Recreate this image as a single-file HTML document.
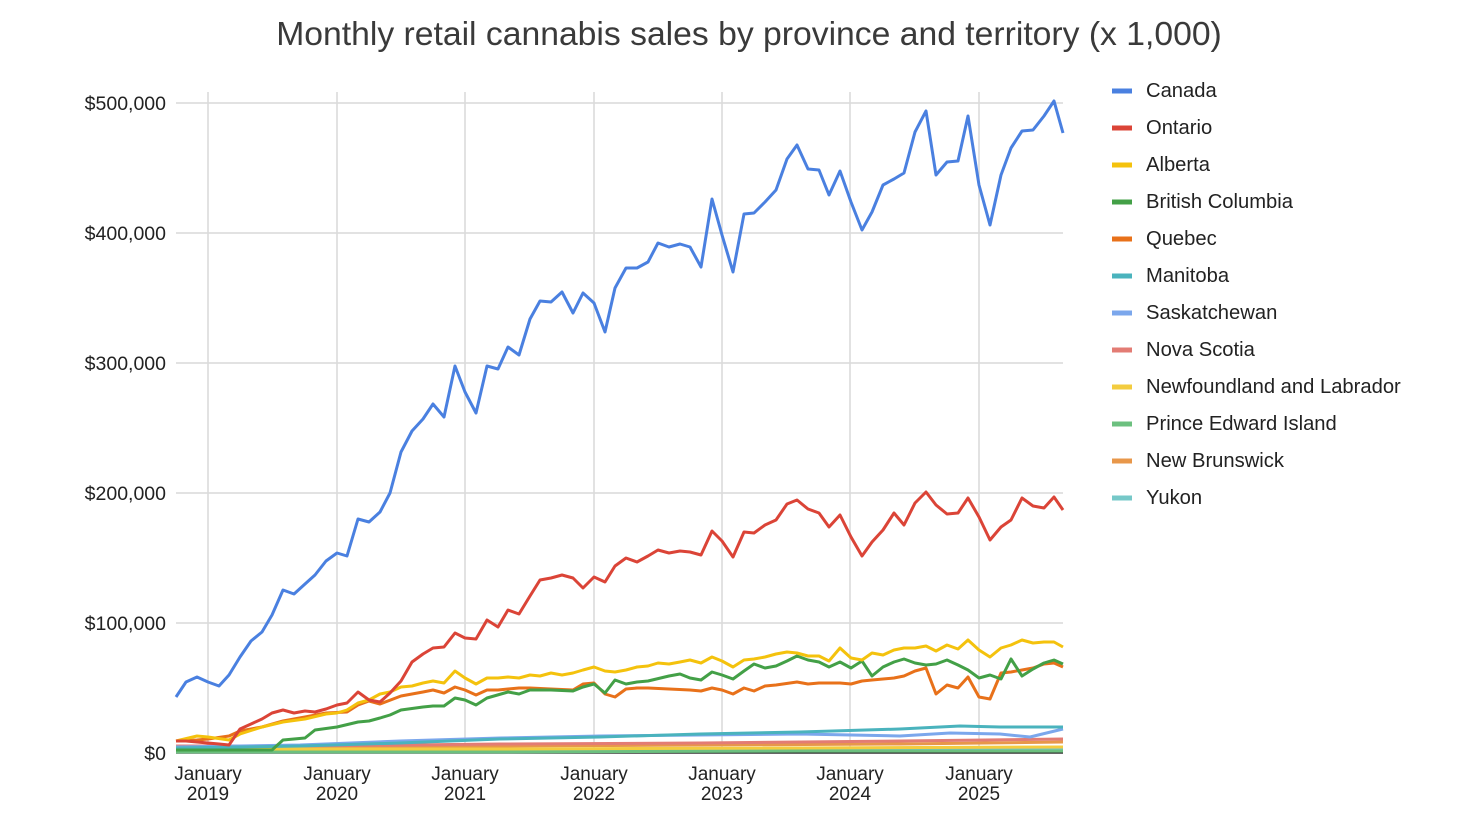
<!DOCTYPE html>
<html><head><meta charset="utf-8"><style>
body{margin:0;background:#fff;}
svg{display:block;font-family:"Liberation Sans",Arial,sans-serif;}
</style></head><body>
<svg width="1472" height="824" viewBox="0 0 1472 824" xmlns="http://www.w3.org/2000/svg">
<rect width="1472" height="824" fill="#fff"/>
<text x="749" y="45" text-anchor="middle" font-size="33.7" fill="#3a3a3a">Monthly retail cannabis sales by province and territory (x 1,000)</text>
<g stroke="#d9d9d9" stroke-width="1.5">
<line x1="176" y1="103" x2="1063" y2="103"/><line x1="176" y1="233" x2="1063" y2="233"/>
<line x1="176" y1="363" x2="1063" y2="363"/><line x1="176" y1="493" x2="1063" y2="493"/>
<line x1="176" y1="623" x2="1063" y2="623"/>
<line x1="208" y1="92" x2="208" y2="753"/><line x1="337" y1="92" x2="337" y2="753"/>
<line x1="465" y1="92" x2="465" y2="753"/><line x1="594" y1="92" x2="594" y2="753"/>
<line x1="722" y1="92" x2="722" y2="753"/><line x1="850" y1="92" x2="850" y2="753"/>
<line x1="979" y1="92" x2="979" y2="753"/>
</g>
<line x1="176" y1="753" x2="1063" y2="753" stroke="#333" stroke-width="1.5"/>
<g font-size="19.5" fill="#222" text-anchor="end">
<text x="166" y="110">$500,000</text><text x="166" y="240">$400,000</text>
<text x="166" y="370">$300,000</text><text x="166" y="500">$200,000</text>
<text x="166" y="630">$100,000</text><text x="166" y="760">$0</text>
</g>
<g font-size="19" fill="#222" text-anchor="middle">
<text x="208" y="780">January</text><text x="208" y="800">2019</text>
<text x="337" y="780">January</text><text x="337" y="800">2020</text>
<text x="465" y="780">January</text><text x="465" y="800">2021</text>
<text x="594" y="780">January</text><text x="594" y="800">2022</text>
<text x="722" y="780">January</text><text x="722" y="800">2023</text>
<text x="850" y="780">January</text><text x="850" y="800">2024</text>
<text x="979" y="780">January</text><text x="979" y="800">2025</text>
</g>
<g fill="none" stroke-width="3" stroke-linejoin="round">
<polyline stroke="#76c8c8" points="176,751 400,751 600,750 800,750 1063,749"/>
<polyline stroke="#e8974a" points="176,747 300,747 500,746 700,745 900,744 1063,742"/>
<polyline stroke="#6cc07f" points="176,752 500,752 800,751 1063,751"/>
<polyline stroke="#f3cc3f" points="176,749 500,749 800,748 1063,747"/>
<polyline stroke="#e37c74" points="176,746 300,746 500,744 700,743 900,741 1063,739"/>
<polyline stroke="#7ba7ec" points="176,747 300,745 400,741 500,738 600,736 700,735 800,734 900,736 950,733 1000,734 1030,737 1063,729"/>
<polyline stroke="#4ab3bd" points="176,748 300,746 400,743 500,739 600,737 700,734 800,732 900,729 960,726 1000,727 1063,727"/>
<polyline stroke="#e8711a" points="176,741 197,740 208,739 229,736 240,731 262,727 283,721 305,717 326,713 347,712 358,705 369,701 380,704 401,696 412,694 423,692 433,690 444,693 455,687 465,690 476,695 487,690 498,690 508,689 519,688 530,688 551,689 573,690 583,684 594,683 605,694 615,697 626,689 637,688 648,688 669,689 690,690 701,691 712,688 722,690 733,694 744,688 754,691 765,686 776,685 797,682 808,684 819,683 840,683 851,684 862,681 872,680 883,679 894,678 904,676 915,671 926,668 936,694 947,685 958,688 968,677 979,697 990,699 1001,673 1011,672 1022,670 1033,668 1044,664 1054,663 1063,667"/>
<polyline stroke="#43a047" points="176,750 272,750 283,740 305,738 315,730 337,727 358,722 369,721 380,718 390,715 401,710 423,707 433,706 444,706 455,698 465,700 476,705 487,698 508,692 519,694 530,690 551,690 573,691 583,687 594,684 605,693 615,680 626,684 637,682 648,681 669,676 680,674 690,678 701,680 712,672 722,675 733,679 744,671 754,664 765,668 776,666 787,661 797,656 808,660 819,662 829,667 840,662 851,668 862,661 872,676 883,667 894,662 904,659 915,663 926,665 936,664 947,660 958,665 968,670 979,678 990,675 1001,679 1011,659 1022,676 1033,669 1044,663 1054,660 1063,664"/>
<polyline stroke="#f4c20d" points="176,741 197,736 208,737 229,740 240,734 262,727 283,722 305,719 326,714 337,713 347,710 358,703 369,700 380,694 390,692 401,687 412,686 423,683 433,681 444,683 455,671 465,678 476,684 487,678 498,678 508,677 519,678 530,675 540,676 551,673 562,675 573,673 583,670 594,667 605,671 615,672 626,670 637,667 648,666 658,663 669,664 680,662 690,660 701,663 712,657 722,661 733,667 744,660 754,659 765,657 776,654 787,652 797,653 808,656 819,656 829,661 840,648 851,658 862,660 872,653 883,655 894,650 904,648 915,648 926,646 936,651 947,645 958,649 968,640 979,650 990,657 1001,648 1011,645 1022,640 1033,643 1044,642 1054,642 1063,647"/>
<polyline stroke="#db4437" points="176,741 186,741 197,742 208,743 219,744 229,745 240,729 251,724 262,719 272,713 283,710 294,713 305,711 315,712 326,709 337,705 347,703 358,692 369,700 380,702 390,693 401,681 412,662 423,654 433,648 444,647 455,633 465,638 476,639 487,620 498,627 508,610 519,614 530,596 540,580 551,578 562,575 573,578 583,588 594,577 605,582 615,566 626,558 637,562 648,556 658,550 669,553 680,551 690,552 701,555 712,531 722,541 733,557 744,532 754,533 765,525 776,520 787,504 797,500 808,509 819,513 829,527 840,515 851,537 862,556 872,542 883,530 894,513 904,525 915,503 926,492 936,505 947,514 958,513 968,498 979,517 990,540 1001,527 1011,520 1022,498 1033,506 1044,508 1054,497 1063,510"/>
<polyline stroke="#4a80e0" points="176,697 186,682 197,677 208,682 219,686 229,675 240,657 251,641 262,632 272,615 283,590 294,594 305,584 315,575 326,561 337,553 347,556 358,519 369,522 380,512 390,493 401,452 412,431 423,419 433,404 444,417 455,366 465,392 476,413 487,366 498,369 508,347 519,355 530,319 540,301 551,302 562,292 573,313 583,293 594,303 605,332 615,288 626,268 637,268 648,262 658,243 669,247 680,244 690,247 701,267 712,199 722,235 733,272 744,214 754,213 765,202 776,190 787,159 797,145 808,169 819,170 829,195 840,171 851,202 862,230 872,212 883,185 894,179 904,173 915,132 926,111 936,175 947,162 958,161 968,116 979,185 990,225 1001,175 1011,148 1022,131 1033,130 1044,116 1054,101 1063,133"/>
</g>
<g stroke-width="5">
<line x1="1112" y1="91" x2="1132" y2="91" stroke="#4a80e0"/>
<line x1="1112" y1="128" x2="1132" y2="128" stroke="#db4437"/>
<line x1="1112" y1="165" x2="1132" y2="165" stroke="#f4c20d"/>
<line x1="1112" y1="202" x2="1132" y2="202" stroke="#43a047"/>
<line x1="1112" y1="239" x2="1132" y2="239" stroke="#e8711a"/>
<line x1="1112" y1="276" x2="1132" y2="276" stroke="#4ab3bd"/>
<line x1="1112" y1="313" x2="1132" y2="313" stroke="#7ba7ec"/>
<line x1="1112" y1="350" x2="1132" y2="350" stroke="#e37c74"/>
<line x1="1112" y1="387" x2="1132" y2="387" stroke="#f3cc3f"/>
<line x1="1112" y1="424" x2="1132" y2="424" stroke="#6cc07f"/>
<line x1="1112" y1="461" x2="1132" y2="461" stroke="#e8974a"/>
<line x1="1112" y1="498" x2="1132" y2="498" stroke="#76c8c8"/>
</g>
<g font-size="20.2" fill="#222">
<text x="1146" y="97">Canada</text><text x="1146" y="134">Ontario</text>
<text x="1146" y="171">Alberta</text><text x="1146" y="208">British Columbia</text>
<text x="1146" y="245">Quebec</text><text x="1146" y="282">Manitoba</text>
<text x="1146" y="319">Saskatchewan</text><text x="1146" y="356">Nova Scotia</text>
<text x="1146" y="393">Newfoundland and Labrador</text><text x="1146" y="430">Prince Edward Island</text>
<text x="1146" y="467">New Brunswick</text><text x="1146" y="504">Yukon</text>
</g>
</svg>
</body></html>
